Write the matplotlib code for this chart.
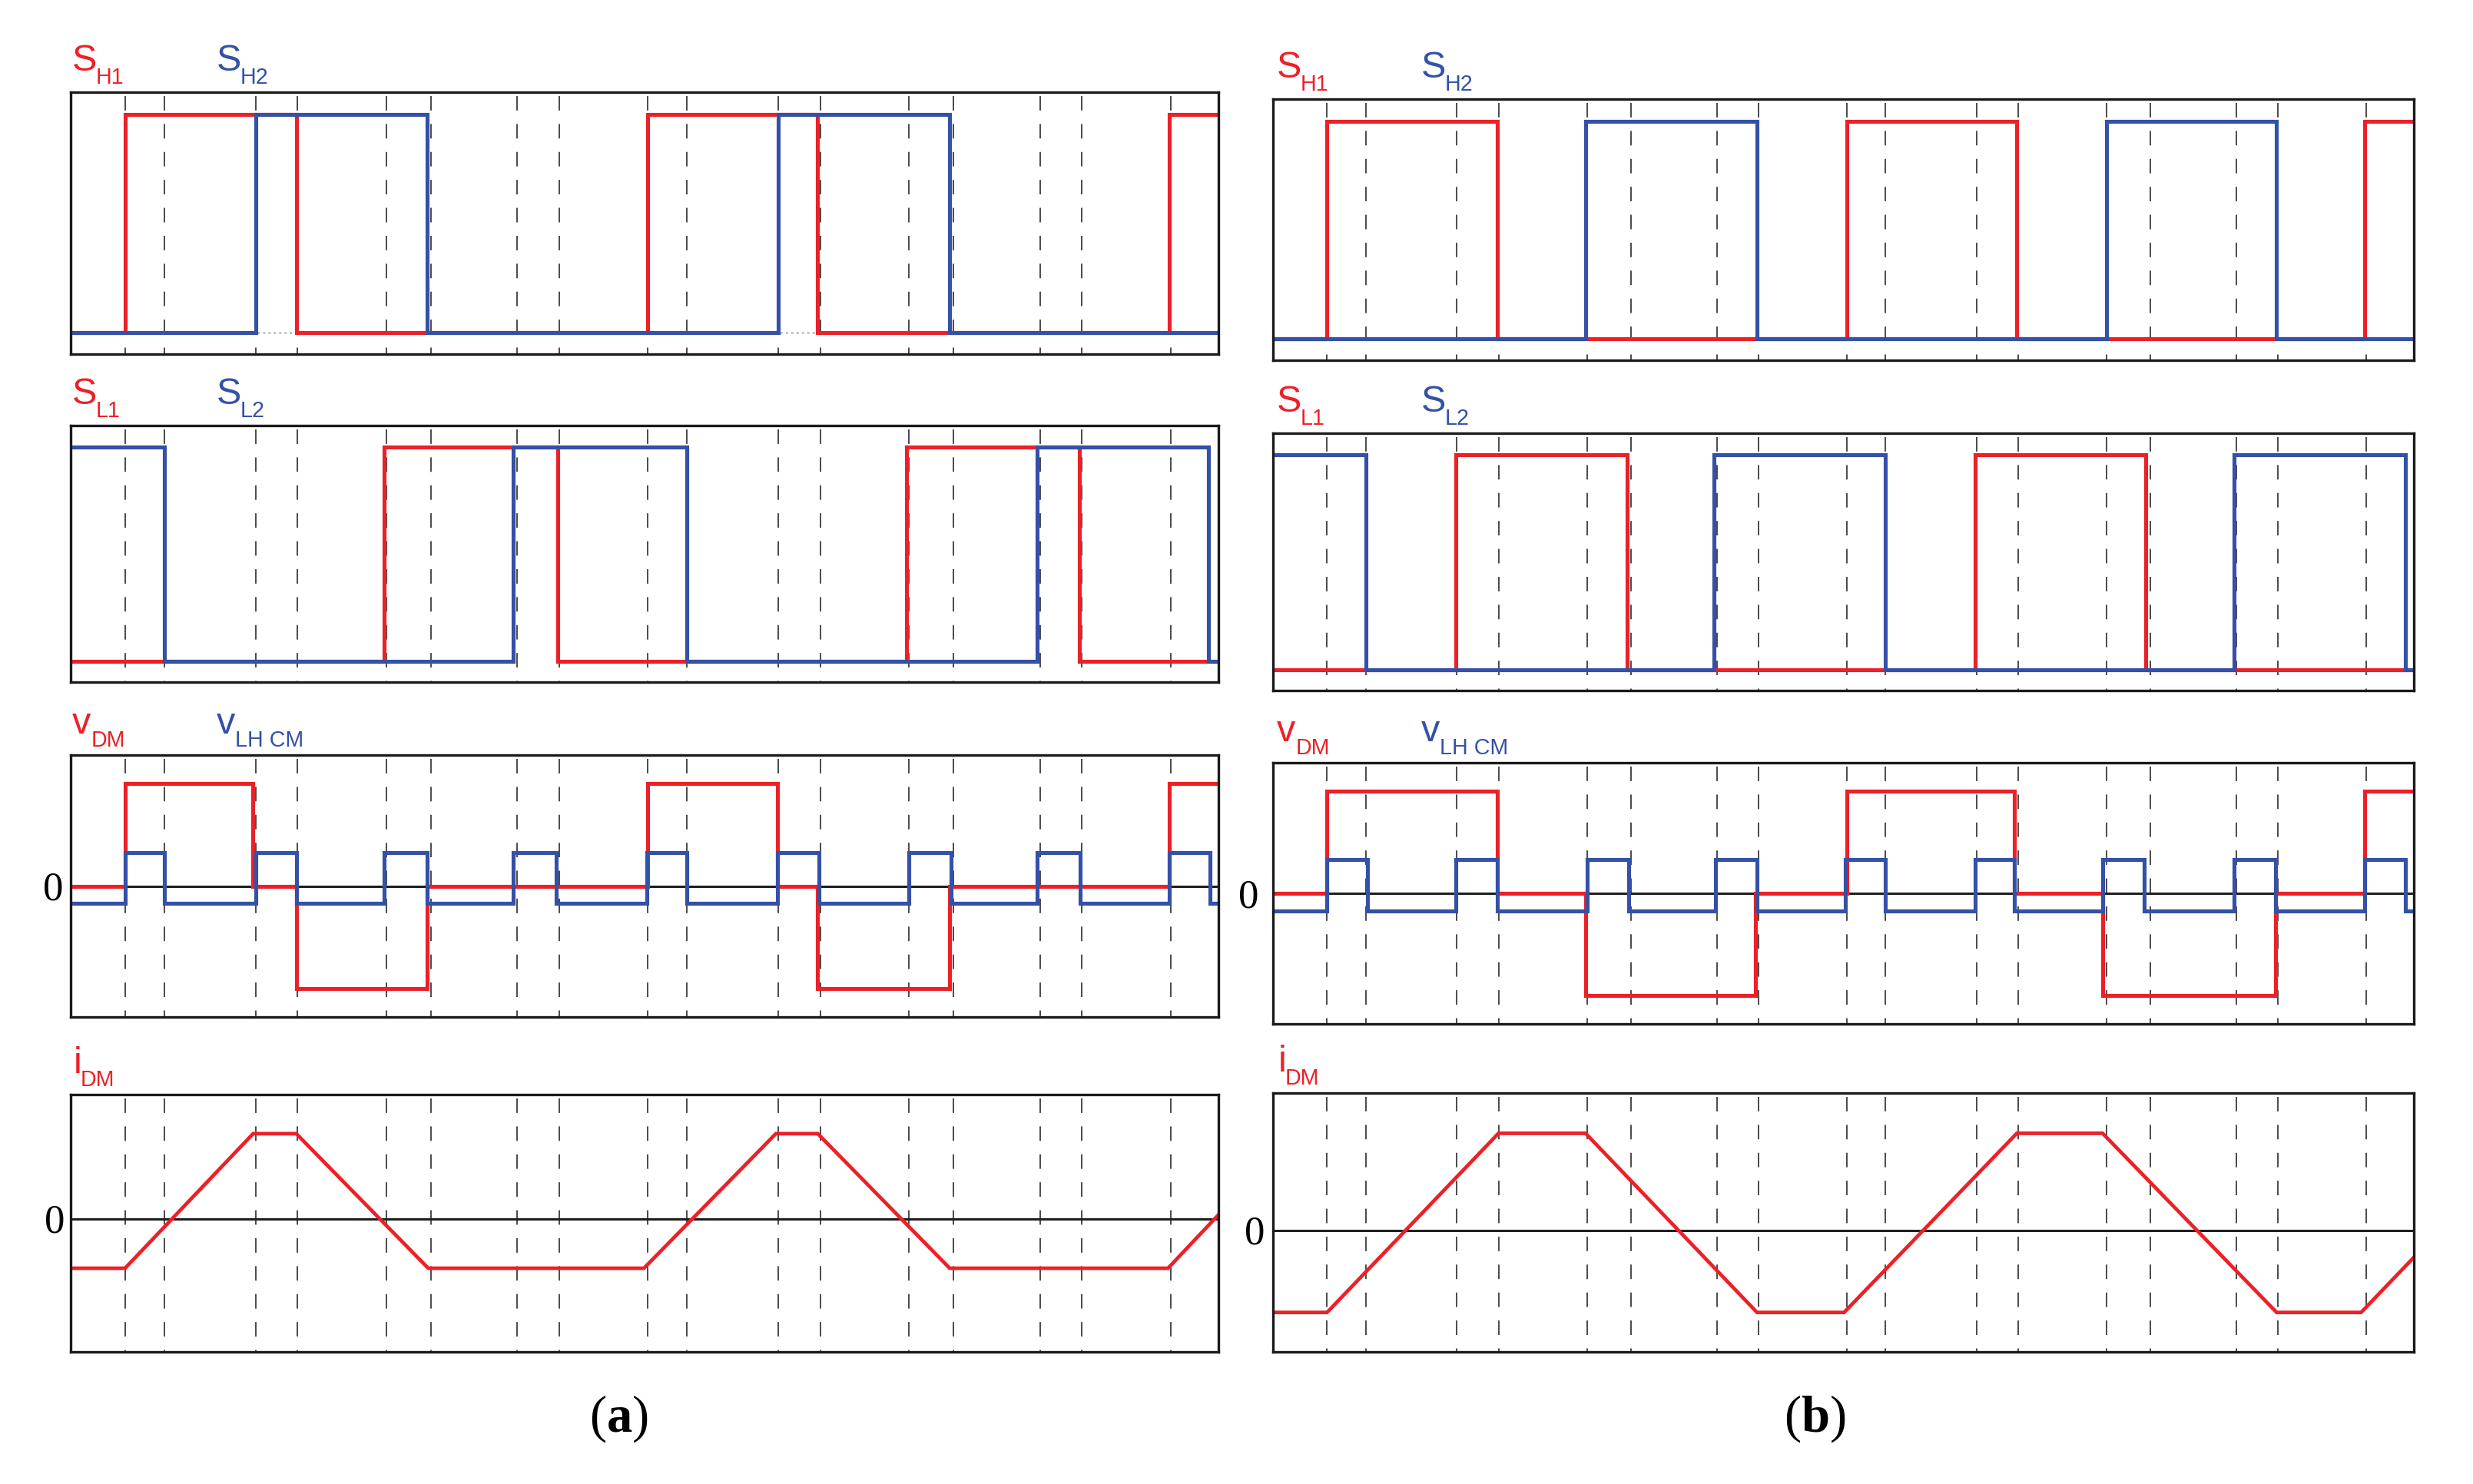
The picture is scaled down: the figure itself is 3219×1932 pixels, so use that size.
import matplotlib
matplotlib.use('Agg')
import matplotlib.pyplot as plt

# output size
W, H, DPI = 3219, 1932, 200
PT = 72.0 / DPI  # points per pixel

RED = '#ED2027'
BLUE = '#3451A7'
SANS = ['Liberation Sans', 'DejaVu Sans']
SERIF = ['Liberation Serif', 'DejaVu Serif']

plt.rcParams['lines.scale_dashes'] = False
plt.rcParams['mathtext.fontset'] = 'custom'
plt.rcParams['mathtext.rm'] = 'Liberation Serif'
plt.rcParams['mathtext.bf'] = 'Liberation Serif:bold'

# time base: one unit = spacing of the dashed switching lines
T_START, T_END = -0.416, 8.366
DASH_T = [0, 0.30, 1, 1.32, 2, 2.34, 3, 3.32, 4, 4.30, 5, 5.32, 6, 6.34, 7, 7.32, 8]

##################################################
# panel (a)
##################################################
A_SH1_T = [T_START, 0.0, 1.31, 4.0, 5.30, 7.99, T_END]
A_SH1_V = [0, 1, 0, 1, 0, 1, 1]
A_SH2_T = [T_START, 1.0, 2.31, 5.0, 6.31, T_END]
A_SH2_V = [0, 1, 0, 1, 0, 0]

A_SL1_T = [T_START, 1.98, 3.31, 5.98, 7.30, T_END]
A_SL1_V = [0, 1, 0, 1, 0, 0]
A_SL2_T = [T_START, 0.30, 2.97, 4.30, 6.98, 8.29, T_END]
A_SL2_V = [1, 0, 1, 0, 1, 0, 0]

A_VDM_T = [T_START, 0.0, 0.98, 1.31, 2.31, 4.0, 4.99, 5.30, 6.31, 7.99, T_END]
A_VDM_V = [0, 1, 0, -1, 0, 1, 0, -1, 0, 1, 1]
A_VCM_T = [T_START, 0.0, 0.30, 1.0, 1.31, 1.98, 2.31, 2.97, 3.30, 3.99, 4.30,
           4.99, 5.31, 6.0, 6.32, 6.98, 7.31, 7.99, 8.30, T_END]
A_VCM_V = [-0.17, 0.33, -0.17, 0.33, -0.17, 0.33, -0.17, 0.33, -0.17, 0.33, -0.17,
           0.33, -0.17, 0.33, -0.17, 0.33, -0.17, 0.33, -0.17, -0.17]

A_IDM_T = [T_START, 0.0, 0.98, 1.31, 2.32, 3.97, 4.98, 5.30, 6.31, 7.98, T_END]
A_IDM_V = [-1, -1, 1.72, 1.72, -1, -1, 1.72, 1.72, -1, -1, 0.08]

##################################################
# panel (b)
##################################################
B_SH1_T = [T_START, 0.0, 1.31, 4.0, 5.31, 7.99, T_END]
B_SH1_V = [0, 1, 0, 1, 0, 1, 1]
B_SH2_T = [T_START, 1.99, 3.31, 6.0, 7.31, T_END]
B_SH2_V = [0, 1, 0, 1, 0, 0]

B_SL1_T = [T_START, 0.99, 2.31, 4.99, 6.30, T_END]
B_SL1_V = [0, 1, 0, 1, 0, 0]
B_SL2_T = [T_START, 0.30, 2.98, 4.30, 6.98, 8.30, T_END]
B_SL2_V = [1, 0, 1, 0, 1, 0, 0]

B_VDM_T = [T_START, 0.0, 1.31, 1.99, 3.30, 4.0, 5.29, 5.97, 7.30, 7.99, T_END]
B_VDM_V = [0, 1, 0, -1, 0, 1, 0, -1, 0, 1, 1]
B_VCM_T = [T_START, 0.0, 0.31, 0.99, 1.31, 2.0, 2.32, 2.99, 3.31, 3.99, 4.30,
           4.99, 5.29, 5.97, 6.29, 6.98, 7.30, 7.99, 8.30, T_END]
B_VCM_V = [-0.17, 0.33, -0.17, 0.33, -0.17, 0.33, -0.17, 0.33, -0.17, 0.33, -0.17,
           0.33, -0.17, 0.33, -0.17, 0.33, -0.17, 0.33, -0.17, -0.17]

B_IDM_T = [T_START, 0.0, 1.32, 1.99, 3.31, 3.98, 5.31, 5.97, 7.31, 7.96, T_END]
B_IDM_V = [-1, -1, 1.18, 1.18, -1, -1, 1.18, 1.18, -1, -1, -0.33]

# labels: (letter, subscript) for red and blue trace of each row
ROW_LABELS = [
    (('S', 'H1'), ('S', 'H2')),
    (('S', 'L1'), ('S', 'L2')),
    (('v', 'DM'), ('v', 'LH CM')),
    (('i', 'DM'), None),
]
SUB_DX = {'S': 31, 'v': 25, 'i': 9}

# layout in pixels (left, right, rows of (top, bottom))
A_BOX = (92, 1586, [(120, 461), (554, 888), (983, 1324), (1425, 1760)])
B_BOX = (1657, 3142, [(129, 469), (564, 899), (993, 1333), (1423, 1760)])
YLIMS = [(-0.098, 1.101), (-0.098, 1.101), (-1.28, 1.28)]
A_IDM_YLIM = (-2.69, 2.51)
B_IDM_YLIM = (-1.48, 1.67)


fig = plt.figure(figsize=(W / DPI, H / DPI), dpi=DPI)


def make_axes(left, right, top, bottom):
    ax = fig.add_axes([left / W, 1 - bottom / H, (right - left) / W, (bottom - top) / H])
    ax.set_xlim(T_START, T_END)
    ax.set_xticks([])
    ax.set_yticks([])
    for sp in ax.spines.values():
        sp.set_linewidth(1.2)
        sp.set_color('#1a1a1a')
        sp.set_zorder(5)
    # dashed switching instants, drawn from the top down
    ax.vlines(DASH_T, 1, 0, transform=ax.get_xaxis_transform(),
              colors='#4a4a4a', linewidth=0.7, linestyles=[(11.3, (6.8, 6.3))], zorder=1)
    return ax


def step(ax, t, v, color, z):
    ln, = ax.step(t, v, where='post', color=color, lw=1.85, zorder=z)
    ln.set_solid_joinstyle('miter')
    ln.set_solid_capstyle('butt')


def label(ax, row, dx0):
    for k, lab in enumerate(ROW_LABELS[row]):
        if lab is None:
            continue
        main, sub = lab
        color = RED if k == 0 else BLUE
        dx = dx0 + 188 * k
        ax.annotate(main, xy=(0, 1), xycoords='axes fraction', xytext=(dx * PT, 28 * PT),
                    textcoords='offset points', ha='left', va='baseline',
                    fontsize=17.5, color=color, family=SANS, annotation_clip=False)
        sdx = dx + SUB_DX[main] - (1 if main != 'S' and k == 1 else 0)
        ax.annotate(sub, xy=(0, 1), xycoords='axes fraction', xytext=(sdx * PT, 11 * PT),
                    textcoords='offset points', ha='left', va='baseline',
                    fontsize=10.3, color=color, family=SANS, annotation_clip=False)


def zero_label(ax, dx):
    ax.axhline(0, color='#1f1f1f', lw=1.1, zorder=1.5)
    ax.annotate('0', xy=(0, 0), xycoords=ax.get_yaxis_transform(),
                xytext=(dx * PT, -18 * PT), textcoords='offset points',
                ha='right', va='baseline', fontsize=19, family=SERIF,
                annotation_clip=False)


panels = [
    (A_BOX, 2, [(-10, -8)],
     [(A_SH1_T, A_SH1_V, A_SH2_T, A_SH2_V),
      (A_SL1_T, A_SL1_V, A_SL2_T, A_SL2_V),
      (A_VDM_T, A_VDM_V, A_VCM_T, A_VCM_V)],
     (A_IDM_T, A_IDM_V, A_IDM_YLIM), 805, '(a)'),
    (B_BOX, 5, [(-19, -11)],
     [(B_SH1_T, B_SH1_V, B_SH2_T, B_SH2_V),
      (B_SL1_T, B_SL1_V, B_SL2_T, B_SL2_V),
      (B_VDM_T, B_VDM_V, B_VCM_T, B_VCM_V)],
     (B_IDM_T, B_IDM_V, B_IDM_YLIM), 2362, '(b)'),
]

for box, dx0, zdx, rows, idm, cap_x, cap in panels:
    left, right, row_px = box
    for r in range(3):
        ax = make_axes(left, right, *row_px[r])
        ax.set_ylim(*YLIMS[r])
        tr, vr, tb, vb = rows[r]
        if r == 0:
            ax.axhline(0, color='#777777', lw=0.5, ls=(0, (1, 1.5)), zorder=1.2)
        if r == 2:
            zero_label(ax, zdx[0][0])
        step(ax, tr, vr, RED, 3)
        step(ax, tb, vb, BLUE, 4)
        label(ax, r, dx0)

    ax = make_axes(left, right, *row_px[3])
    ax.set_ylim(*idm[2])
    zero_label(ax, zdx[0][1])
    ln, = ax.plot(idm[0], idm[1], color=RED, lw=1.7, zorder=3)
    ln.set_solid_joinstyle('miter')
    label(ax, 3, dx0 + 2)

    letter = cap[1]
    fig.text(cap_x / W, 1 - 1864 / H, r'$\mathrm{(}\mathbf{%s}\mathrm{)}$' % letter,
             ha='center', va='baseline', fontsize=24)

fig.savefig('out.png', dpi=DPI, facecolor='white')
